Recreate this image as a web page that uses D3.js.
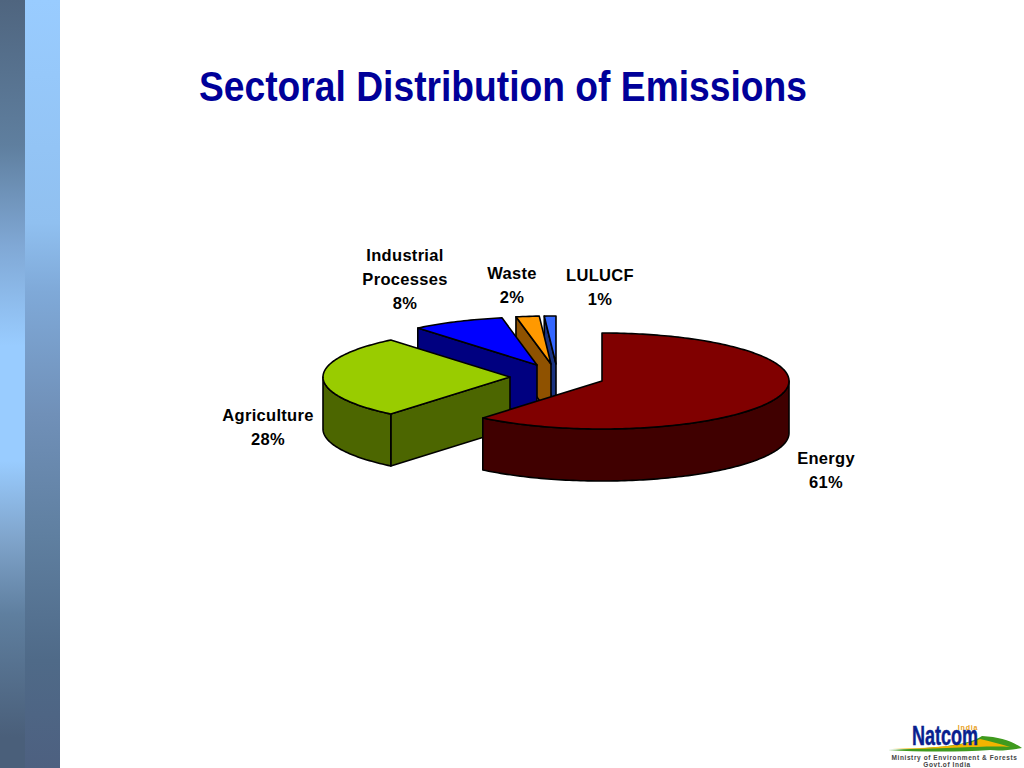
<!DOCTYPE html>
<html>
<head>
<meta charset="utf-8">
<title>Sectoral Distribution of Emissions</title>
<script src="https://cdn.jsdelivr.net/npm/d3@7/dist/d3.min.js"></script>
<style>
  html, body { margin: 0; padding: 0; background: #fff; }
  svg { display: block; }
  text { font-family: "Liberation Sans", Arial, sans-serif; }
</style>
</head>
<body>
<div id="chart"></div>
<script>
// chart data
var categories = ["Energy", "Agriculture", "Industrial Processes", "Waste", "LULUCF"];
var shares = [61, 28, 8, 2, 1];
var labelLines = [["Energy", "61%"], ["Agriculture", "28%"], ["Industrial", "Processes", "8%"], ["Waste", "2%"], ["LULUCF", "1%"]];
var titleText = "Sectoral Distribution of Emissions";

// colours: top face and side wall for every slice
var topColors = ["#800000", "#99cc00", "#0000ff", "#ff9900", "#3366ff"];
var sideColors = ["#400000", "#4c6600", "#000080", "#8f5200", "#1a3380"];

// how far each slice is pulled out of the pie, in pixels
var explodeX = [55, -37, -10, 4, 9];
var explodeY = [11, 7, -5, -6, -6];

// label anchors
var labelX = [826, 268, 405, 512, 600];
var labelY = [464, 421, 261, 279, 281];

var W = 1024, H = 768;
var pieX = 547, pieY = 370, radiusX = 187, radiusY = 48, depth = 52;

var svg = d3.select("#chart").append("svg")
    .attr("width", W)
    .attr("height", H);

var defs = svg.append("defs");

function verticalGradient(id, stops) {
  var g = defs.append("linearGradient")
      .attr("id", id)
      .attr("x1", 0).attr("y1", 0)
      .attr("x2", 0).attr("y2", 1);
  stops.forEach(function (s) {
    g.append("stop").attr("offset", s[0]).attr("stop-color", s[1]);
  });
}

verticalGradient("band1", [[0, "#4f657f"], [0.19, "#5f7f9f"], [0.32, "#80a8d5"], [0.45, "#99ccff"], [0.6, "#99ccff"], [0.7, "#80a5cc"], [0.8, "#5f7f9f"], [0.96, "#4a5f7a"], [1, "#4a5f7a"]]);
verticalGradient("band2", [[0, "#99ccff"], [0.29, "#90c0f0"], [0.38, "#7fa9d8"], [0.54, "#7090b8"], [0.7, "#5f7fa0"], [0.86, "#4f6a88"], [1, "#4d6080"]]);

svg.append("rect").attr("width", 25).attr("height", H).attr("fill", "url(#band1)");
svg.append("rect").attr("x", 25).attr("width", 35).attr("height", H).attr("fill", "url(#band2)");

// no narrow font here, so squeeze the bold face to the title's width
svg.append("text")
    .attr("x", 199)
    .attr("y", 101)
    .attr("textLength", 608)
    .attr("lengthAdjust", "spacingAndGlyphs")
    .attr("fill", "#000099")
    .style("font-size", "43px")
    .style("font-weight", "bold")
    .text(titleText);

// unit circle to pixels for the flattened pie
var xScale = d3.scaleLinear().domain([-1, 1]).range([-radiusX, radiusX]);
var yScale = d3.scaleLinear().domain([-1, 1]).range([-radiusY, radiusY]);

var pie = d3.pie().sort(null).startAngle(0).endAngle(2 * Math.PI);
var slices = pie(shares);

var line = d3.line();

function rimPoint(cx, cy, a, drop) {
  return [cx + xScale(Math.sin(a)), cy + yScale(-Math.cos(a)) + drop];
}

function rim(cx, cy, a0, a1, drop) {
  var n = Math.max(2, Math.ceil((a1 - a0) / 0.02));
  return d3.range(n + 1).map(function (i) {
    return rimPoint(cx, cy, a0 + (a1 - a0) * i / n, drop);
  });
}

function face(group, pts, fill) {
  group.append("path")
      .attr("d", line(pts) + "Z")
      .attr("fill", fill)
      .attr("stroke", "#000")
      .attr("stroke-width", 1.6)
      .attr("stroke-linejoin", "round");
}

// back slices first, Energy goes on top of everything
var drawOrder = [4, 3, 2, 1, 0];

drawOrder.forEach(function (i) {
  var s = slices[i];
  var cx = pieX + explodeX[i], cy = pieY + explodeY[i];
  var g = svg.append("g").attr("class", "slice").attr("data-name", categories[i]);

  // radial wall on the start edge, only seen on the left half
  if (s.startAngle > Math.PI) {
    var p = rimPoint(cx, cy, s.startAngle, 0);
    face(g, [p, [cx, cy], [cx, cy + depth], [p[0], p[1] + depth]], sideColors[i]);
  }

  // outer wall, only the front half of the rim shows
  var a0 = Math.max(s.startAngle, Math.PI / 2);
  var a1 = Math.min(s.endAngle, 3 * Math.PI / 2);
  if (a1 > a0) {
    var upper = rim(cx, cy, a0, a1, 0);
    var lower = rim(cx, cy, a0, a1, depth).reverse();
    face(g, upper.concat(lower), sideColors[i]);
  }

  // top face
  face(g, [[cx, cy]].concat(rim(cx, cy, s.startAngle, s.endAngle, 0)), topColors[i]);
});

// slice labels
labelLines.forEach(function (lines, i) {
  var t = svg.append("text")
      .attr("text-anchor", "middle")
      .attr("fill", "#000")
      .style("font-size", "16.5px")
      .style("font-weight", "bold")
      .style("letter-spacing", "0.3px");
  lines.forEach(function (txt, j) {
    t.append("tspan")
        .attr("x", labelX[i])
        .attr("y", labelY[i] + j * 24)
        .text(txt);
  });
});

// Natcom logo, bottom right
var logo = svg.append("g");
logo.append("path")
    .attr("d", "M888,750 C930,748 965,747 982,736 C1000,737 1012,741 1022,748 C1010,750 1000,751 990,750 C960,752 920,752 888,750Z")
    .attr("fill", "#3f9a1e");
logo.append("path")
    .attr("d", "M892,749 C930,748 965,746 980,739 C990,741 1000,744 1010,747 C990,745 950,749 892,749Z")
    .attr("fill", "#f2b400");
logo.append("text")
    .attr("x", 912)
    .attr("y", 745)
    .attr("textLength", 66)
    .attr("lengthAdjust", "spacingAndGlyphs")
    .attr("fill", "#0a1f8f")
    .attr("stroke", "#0a1f8f")
    .attr("stroke-width", 0.5)
    .style("font-size", "28px")
    .style("font-weight", "bold")
    .text("Natcom");
logo.append("text")
    .attr("x", 968)
    .attr("y", 730)
    .attr("text-anchor", "middle")
    .attr("fill", "#e8a020")
    .style("font-size", "7px")
    .style("font-weight", "bold")
    .style("letter-spacing", "0.8px")
    .text("India");
logo.append("text")
    .attr("x", 954.5)
    .attr("y", 760)
    .attr("text-anchor", "middle")
    .attr("fill", "#444")
    .style("font-size", "6.5px")
    .style("font-weight", "bold")
    .style("letter-spacing", "0.6px")
    .text("Ministry of Environment & Forests");
logo.append("text")
    .attr("x", 947)
    .attr("y", 767)
    .attr("text-anchor", "middle")
    .attr("fill", "#444")
    .style("font-size", "6.5px")
    .style("font-weight", "bold")
    .style("letter-spacing", "0.6px")
    .text("Govt.of India");
</script>
</body>
</html>
